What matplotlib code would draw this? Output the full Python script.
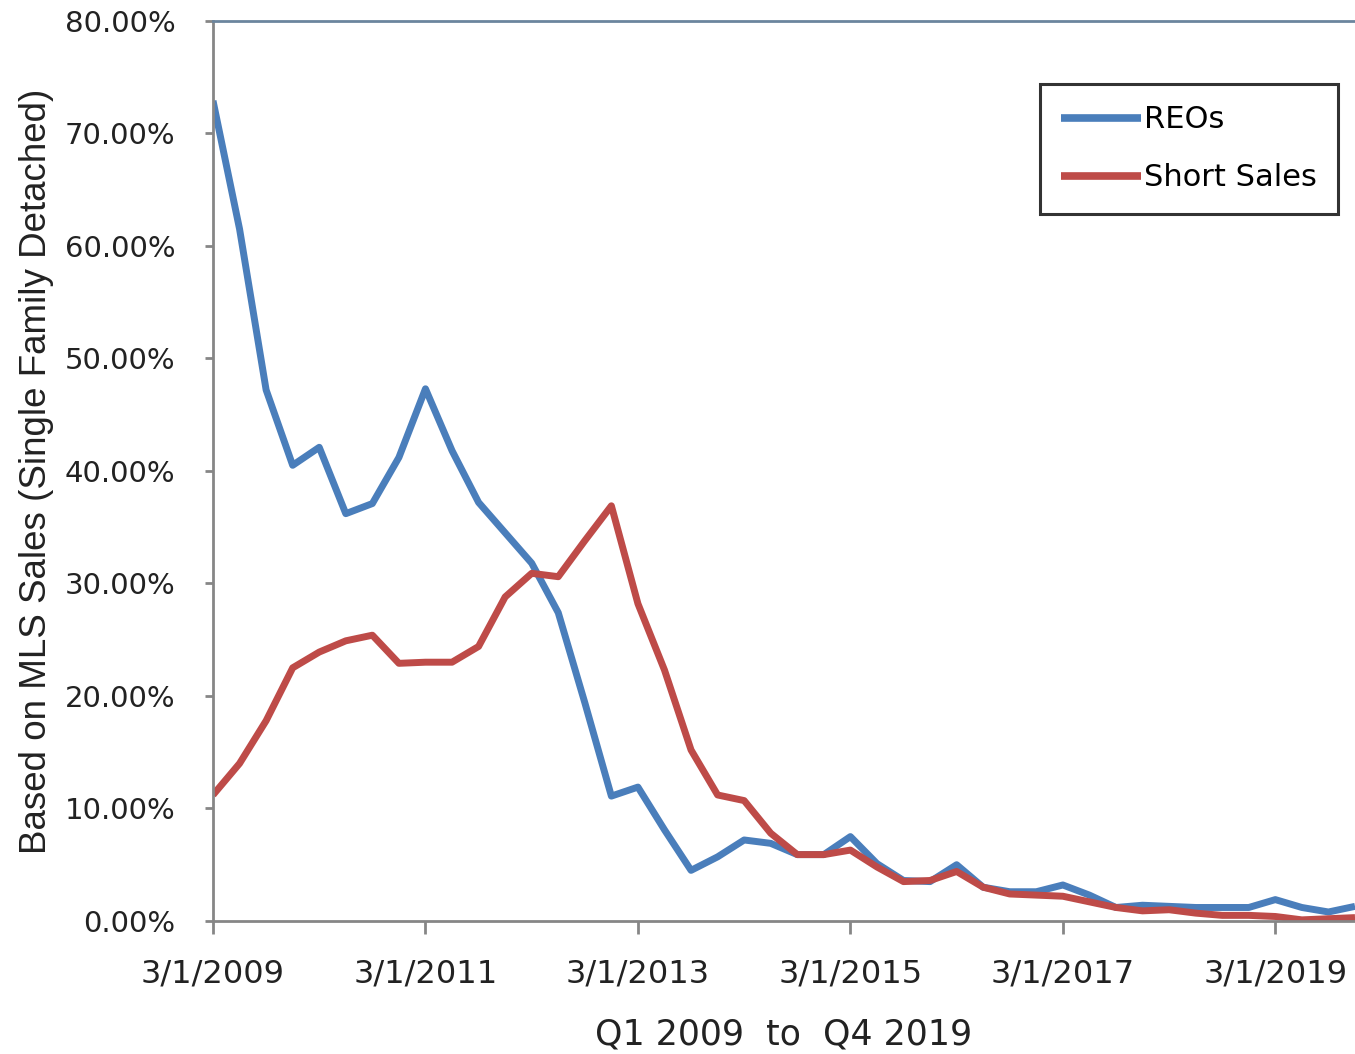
import numpy as np
import pandas as pd
import matplotlib
matplotlib.use("Agg")
import matplotlib.pyplot as plt
from matplotlib.ticker import PercentFormatter

# quarterly share of MLS sales, Q1 2009 .. Q4 2019 (percent)
quarters = pd.date_range("2009-03-01", periods=44, freq="3MS")
reo = [72.9, 61.5, 47.2, 40.5, 42.1, 36.2, 37.1, 41.2, 47.3, 41.8,
       37.2, 34.5, 31.8, 27.4, 19.4, 11.1, 11.9, 8.1, 4.5, 5.7,
       7.2, 6.9, 5.9, 5.9, 7.5, 5.1, 3.6, 3.5, 5.0, 3.0,
       2.6, 2.6, 3.2, 2.3, 1.2, 1.4, 1.3, 1.2, 1.2, 1.2,
       1.9, 1.2, 0.8, 1.3]
short_sales = [11.2, 14.0, 17.8, 22.5, 23.9, 24.9, 25.4, 22.9, 23.0, 23.0,
               24.4, 28.8, 30.9, 30.6, 33.8, 36.9, 28.2, 22.3, 15.2, 11.2,
               10.7, 7.8, 5.9, 5.9, 6.3, 4.8, 3.5, 3.6, 4.4, 3.0,
               2.4, 2.3, 2.2, 1.7, 1.2, 0.9, 1.0, 0.7, 0.5, 0.5,
               0.4, 0.1, 0.2, 0.3]
series_names = ["REOs", "Short Sales"]
yticks = [0, 10, 20, 30, 40, 50, 60, 70, 80]

x = np.arange(len(quarters))
tick_idx = x[::8]
tick_labels = [f"{d.month}/{d.day}/{d.year}" for d in quarters[::8]]

fig = plt.figure(figsize=(13.55, 10.54), dpi=100)
ax = fig.add_axes([0.1572, 0.1262, 0.8428, 0.8540])

ax.plot(x, reo, color="#4a7ebb", lw=5, solid_joinstyle="round",
        solid_capstyle="butt", label=series_names[0])
ax.plot(x, short_sales, color="#be4b48", lw=5, solid_joinstyle="round",
        solid_capstyle="butt", label=series_names[1])

ax.set_xlim(0, 43)
ax.set_ylim(0, 80)
ax.set_yticks(yticks)
ax.yaxis.set_major_formatter(PercentFormatter(decimals=2))
ax.set_xticks(tick_idx)
ax.set_xticklabels(tick_labels)

for s in ["left", "bottom"]:
    ax.spines[s].set_color("#868686")
    ax.spines[s].set_linewidth(2)
ax.spines["right"].set_visible(False)
ax.spines["top"].set_color("#6b859e")
ax.spines["top"].set_linewidth(2)

ax.tick_params(axis="y", length=6, width=2, color="#868686", pad=21,
               labelsize=21, labelcolor="#222222")
ax.tick_params(axis="x", length=9, width=2, color="#868686", pad=18,
               labelsize=23, labelcolor="#222222")

ax.set_xlabel("Q1 2009  to  Q4 2019", fontsize=25, color="#222222", labelpad=20)
ax.set_ylabel("Based on MLS Sales (Single Family Detached)", fontsize=26.5,
              family=["Liberation Sans", "DejaVu Sans"], color="#222222",
              labelpad=8)

leg = ax.legend(loc="upper right", bbox_to_anchor=(0.985, 0.930),
                borderaxespad=0, fancybox=False, edgecolor="black",
                fontsize=22, handlelength=2.6, handletextpad=0.1,
                labelspacing=0.95, borderpad=0.7)
leg.get_frame().set_linewidth(2.2)
for line in leg.get_lines():
    line.set_linewidth(5.5)

fig.savefig("out.png", dpi=100, facecolor="white")
